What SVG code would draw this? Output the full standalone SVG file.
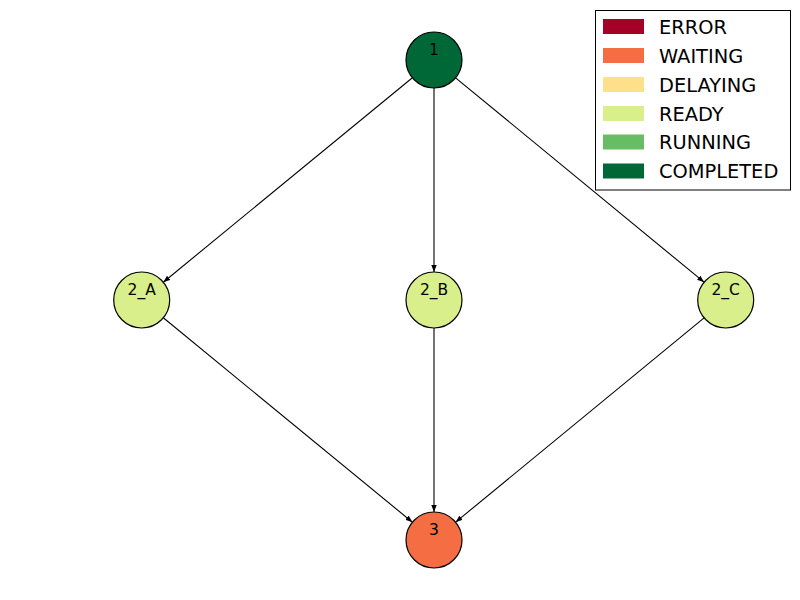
<svg xmlns="http://www.w3.org/2000/svg" width="800" height="600" viewBox="0 0 800 600">
<style>
.node circle{stroke:#000;stroke-width:1.2}
.lbl{font-family:"DejaVu Sans",sans-serif;font-size:15.5px;text-anchor:middle;fill:#000}
.edge{stroke:#000;stroke-width:1.1;fill:none;marker-end:url(#ah)}
.leg{font-family:"DejaVu Sans",sans-serif;font-size:19.4px;fill:#000}
</style>
<defs>
<marker id="ah" markerUnits="userSpaceOnUse" markerWidth="8" markerHeight="6" refX="7" refY="2.7" orient="auto">
<path d="M0,0 L7,2.7 L0,5.4 z" fill="#000"/>
</marker>
</defs>
<rect width="800" height="600" fill="#fff"/>
<g id="connectors">
<line class="edge" x1="412.4" y1="77.8" x2="163.3" y2="282.2"/>
<line class="edge" x1="434" y1="88" x2="434" y2="272"/>
<line class="edge" x1="455.6" y1="77.8" x2="704.1" y2="282.2"/>
<line class="edge" x1="163.3" y1="317.8" x2="412.4" y2="522.2"/>
<line class="edge" x1="434" y1="328" x2="434" y2="512"/>
<line class="edge" x1="704.1" y1="317.8" x2="455.6" y2="522.2"/>
</g>
<g id="node-1" class="node"><circle cx="434" cy="60" r="28" fill="#006837"/><text class="lbl" x="434" y="54.5">1</text></g>
<g id="node-2_A" class="node"><circle cx="141.7" cy="300" r="28" fill="#d9ef8b"/><text class="lbl" x="141.7" y="294.5">2_A</text></g>
<g id="node-2_B" class="node"><circle cx="434" cy="300" r="28" fill="#d9ef8b"/><text class="lbl" x="434" y="294.5">2_B</text></g>
<g id="node-2_C" class="node"><circle cx="725.7" cy="300" r="28" fill="#d9ef8b"/><text class="lbl" x="725.7" y="294.5">2_C</text></g>
<g id="node-3" class="node"><circle cx="434" cy="540" r="28" fill="#f46d43"/><text class="lbl" x="434" y="534.5">3</text></g>
<g id="legend">
<rect x="595.5" y="10.5" width="195" height="179.5" fill="#fff" stroke="#000" stroke-width="1"/>
<rect x="603" y="19" width="41" height="15" fill="#a50026"/>
<rect x="603" y="48" width="41" height="15" fill="#f46d43"/>
<rect x="603" y="77" width="41" height="15" fill="#fee08b"/>
<rect x="603" y="106" width="41" height="15" fill="#d9ef8b"/>
<rect x="603" y="134.5" width="41" height="15" fill="#66bd63"/>
<rect x="603" y="163.5" width="41" height="15" fill="#006837"/>
<text class="leg" x="659" y="33.5">ERROR</text>
<text class="leg" x="659" y="62.5">WAITING</text>
<text class="leg" x="659" y="91.5">DELAYING</text>
<text class="leg" x="659" y="120.5">READY</text>
<text class="leg" x="659" y="149">RUNNING</text>
<text class="leg" x="659" y="178">COMPLETED</text>
</g>
</svg>
